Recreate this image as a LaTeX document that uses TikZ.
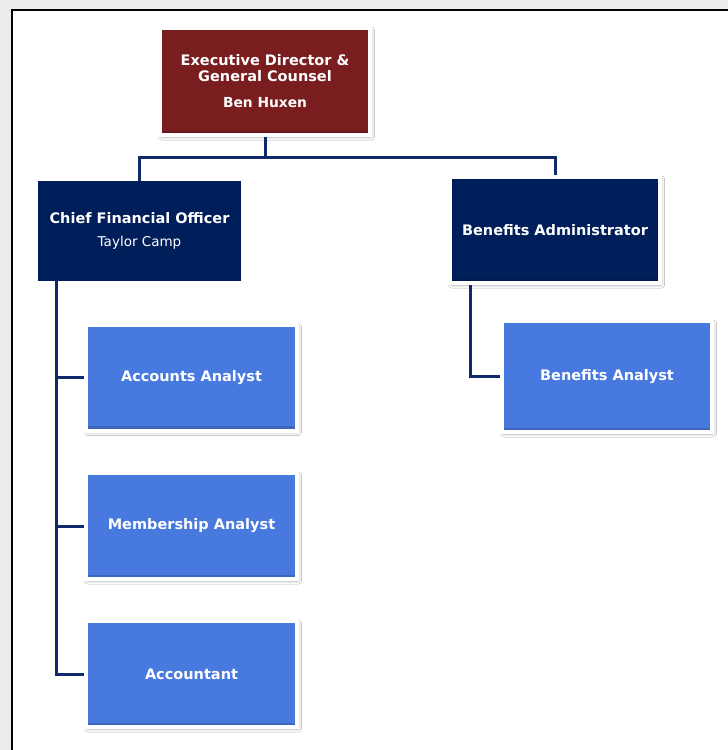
\documentclass[tikz,border=0pt]{standalone}
\usepackage{fontspec}
\setmainfont{DejaVu Sans}
\usetikzlibrary{shadows.blur}
\definecolor{execred}{HTML}{7A1D1F}
\definecolor{navybox}{HTML}{001E5A}
\definecolor{bluebox}{HTML}{4879DE}
\definecolor{linkcol}{HTML}{0E2A6A}
\definecolor{pagegray}{HTML}{ECECEC}
\tikzset{
  boxbase/.style={rectangle, text=white, align=center, font=\bfseries\fontsize{14.5}{17}\selectfont, inner sep=0pt},
  framed/.style={boxbase, draw=white, line width=4pt,
    blur shadow={shadow xshift=1.5pt, shadow yshift=-2pt, shadow blur radius=3pt, shadow blur steps=10, shadow opacity=30},
    path picture={\fill[black,opacity=0.15] (path picture bounding box.south west) rectangle ([yshift=4.5pt]path picture bounding box.south east);}},
  execbox/.style={framed, fill=execred, minimum width=210pt, minimum height=107pt},
  cfobox/.style={boxbase, fill=navybox, minimum width=203pt, minimum height=100pt},
  adminbox/.style={framed, fill=navybox, minimum width=210pt, minimum height=106pt},
  staffbox/.style={framed, fill=bluebox, minimum width=211pt, minimum height=106pt},
  link/.style={draw=linkcol, line width=3pt}
}
\begin{document}
\begin{tikzpicture}[x=1pt,y=-1pt]
\useasboundingbox (0,0) rectangle (728,750);
\fill[pagegray] (0,0) rectangle (728,750);
\fill[white] (12,10) rectangle (728,750);
\draw[black, line width=2.5pt] (12,750) -- (12,10) -- (728,10);

\node[execbox] (exec) at (265,81.5) {Executive Director \&\\[-1pt]General Counsel\\[9pt]\fontsize{13.8}{16}\selectfont Ben Huxen};
\node[cfobox] (cfo) at (139.5,231) {Chief Financial Officer\\[6pt]{\mdseries\fontsize{13.5}{15}\selectfont Taylor Camp}};
\node[adminbox] (ba) at (555,230) {Benefits Administrator};
\node[staffbox] (acc) at (191.5,377.5) {Accounts Analyst};
\node[staffbox] (mem) at (191.5,526) {Membership Analyst};
\node[staffbox] (act) at (191.5,674) {Accountant};
\node[staffbox, minimum height=111pt, minimum width=210pt] (bna) at (607,376.5) {Benefits Analyst};

\coordinate (split) at ([yshift=-20pt]exec.south);
\draw[link] (exec.south) -- (split);
\draw[link] (split) -| (cfo.north);
\draw[link] (split) -| (ba.north);
\draw[link] ([xshift=18.5pt]cfo.south west) |- (acc.west);
\draw[link] ([xshift=18.5pt]cfo.south west) |- (mem.west);
\draw[link] ([xshift=18.5pt]cfo.south west) |- (act.west);
\draw[link] ([xshift=22pt]ba.south west) |- (bna.west);
\end{tikzpicture}
\end{document}
